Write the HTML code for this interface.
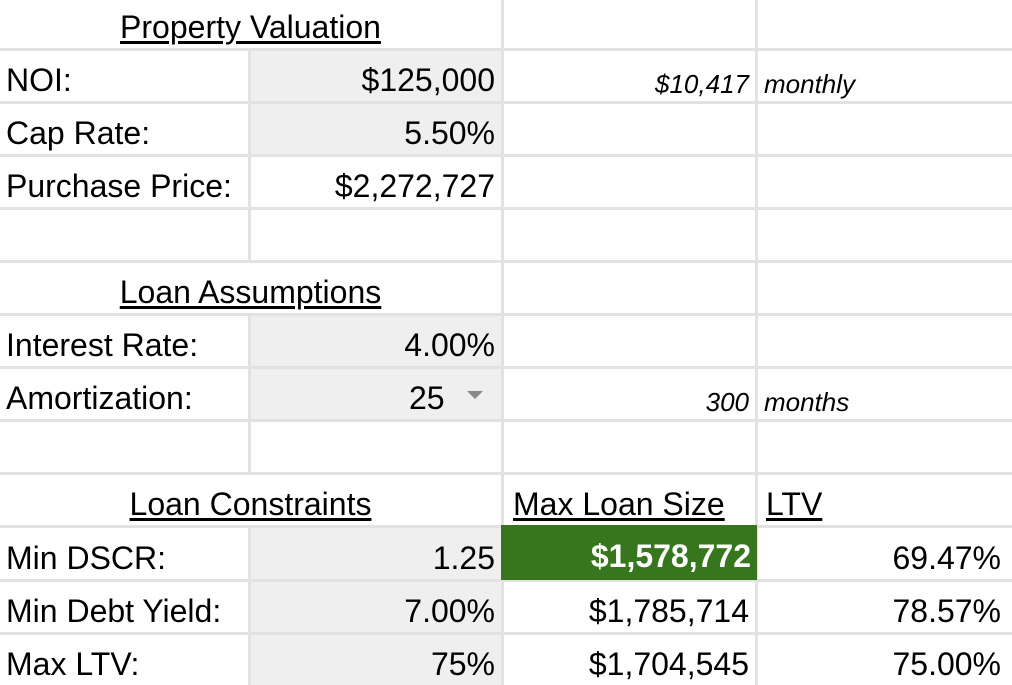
<!DOCTYPE html>
<html><head><style>
body{margin:0;width:1012px;height:685px;background:#e2e2e2;position:relative;overflow:hidden;font-family:"Liberation Sans",Arial,sans-serif;color:#000}
.c{position:absolute;background:#fff;box-sizing:border-box;font-size:32px;display:flex;align-items:flex-end;padding:0 6px 2px 6px;white-space:nowrap}
.g{background:#efefef}
.r{justify-content:flex-end}
.u{text-decoration:underline;text-underline-offset:3px}
.i{font-style:italic;font-size:26px;padding-bottom:1px}
.ctr{justify-content:center}
.d{padding-right:11px}
</style></head><body>
<div class="c ctr" style="left:0;top:0;width:501px;height:48px;padding-bottom:2px"><span class="u">Property Valuation</span></div>
<div class="c" style="left:504px;top:0;width:251px;height:48px"></div>
<div class="c" style="left:758px;top:0;width:254px;height:48px"></div>

<div class="c" style="left:0;top:51px;width:248px;height:50px">NOI:</div>
<div class="c g r" style="left:251px;top:51px;width:250px;height:50px">$125,000</div>
<div class="c r i" style="left:504px;top:51px;width:251px;height:50px">$10,417</div>
<div class="c i" style="left:758px;top:51px;width:254px;height:50px">monthly</div>

<div class="c" style="left:0;top:104px;width:248px;height:50px">Cap Rate:</div>
<div class="c g r" style="left:251px;top:104px;width:250px;height:50px">5.50%</div>
<div class="c" style="left:504px;top:104px;width:251px;height:50px"></div>
<div class="c" style="left:758px;top:104px;width:254px;height:50px"></div>

<div class="c" style="left:0;top:157px;width:248px;height:50px">Purchase Price:</div>
<div class="c r" style="left:251px;top:157px;width:250px;height:50px">$2,272,727</div>
<div class="c" style="left:504px;top:157px;width:251px;height:50px"></div>
<div class="c" style="left:758px;top:157px;width:254px;height:50px"></div>

<div class="c" style="left:0;top:210px;width:248px;height:50px"></div>
<div class="c" style="left:251px;top:210px;width:250px;height:50px"></div>
<div class="c" style="left:504px;top:210px;width:251px;height:50px"></div>
<div class="c" style="left:758px;top:210px;width:254px;height:50px"></div>

<div class="c ctr" style="left:0;top:263px;width:501px;height:50px"><span class="u">Loan Assumptions</span></div>
<div class="c" style="left:504px;top:263px;width:251px;height:50px"></div>
<div class="c" style="left:758px;top:263px;width:254px;height:50px"></div>

<div class="c" style="left:0;top:316px;width:248px;height:50px">Interest Rate:</div>
<div class="c g r" style="left:251px;top:316px;width:250px;height:50px">4.00%</div>
<div class="c" style="left:504px;top:316px;width:251px;height:50px"></div>
<div class="c" style="left:758px;top:316px;width:254px;height:50px"></div>

<div class="c" style="left:0;top:369px;width:248px;height:50px">Amortization:</div>
<div class="c g" style="left:251px;top:369px;width:250px;height:50px;padding-left:158px">25<span style="display:inline-block;margin-left:22px;margin-bottom:18px;width:0;height:0;border-left:8px solid transparent;border-right:8px solid transparent;border-top:8px solid #888"></span></div>
<div class="c r i" style="left:504px;top:369px;width:251px;height:50px">300</div>
<div class="c i" style="left:758px;top:369px;width:254px;height:50px">months</div>

<div class="c" style="left:0;top:422px;width:248px;height:50px"></div>
<div class="c" style="left:251px;top:422px;width:250px;height:50px"></div>
<div class="c" style="left:504px;top:422px;width:251px;height:50px"></div>
<div class="c" style="left:758px;top:422px;width:254px;height:50px"></div>

<div class="c ctr" style="left:0;top:475px;width:501px;height:50px"><span class="u">Loan Constraints</span></div>
<div class="c" style="left:504px;top:475px;width:251px;height:50px;padding-left:9px"><span class="u">Max Loan Size</span></div>
<div class="c" style="left:758px;top:475px;width:254px;height:50px;padding-left:8px"><span class="u">LTV</span></div>

<div class="c" style="left:0;top:528px;width:248px;height:51px">Min DSCR:</div>
<div class="c g r" style="left:251px;top:528px;width:250px;height:51px">1.25</div>
<div class="c r" style="left:501px;top:525px;width:256px;height:55px;background:#38761d;color:#fff;font-weight:bold;padding-bottom:5px">$1,578,772</div>
<div class="c r d" style="left:758px;top:528px;width:254px;height:51px">69.47%</div>

<div class="c" style="left:0;top:582px;width:248px;height:50px">Min Debt Yield:</div>
<div class="c g r" style="left:251px;top:582px;width:250px;height:50px">7.00%</div>
<div class="c r" style="left:504px;top:582px;width:251px;height:50px">$1,785,714</div>
<div class="c r d" style="left:758px;top:582px;width:254px;height:50px">78.57%</div>

<div class="c" style="left:0;top:635px;width:248px;height:50px">Max LTV:</div>
<div class="c g r" style="left:251px;top:635px;width:250px;height:50px">75%</div>
<div class="c r" style="left:504px;top:635px;width:251px;height:50px">$1,704,545</div>
<div class="c r d" style="left:758px;top:635px;width:254px;height:50px">75.00%</div>
</body></html>
